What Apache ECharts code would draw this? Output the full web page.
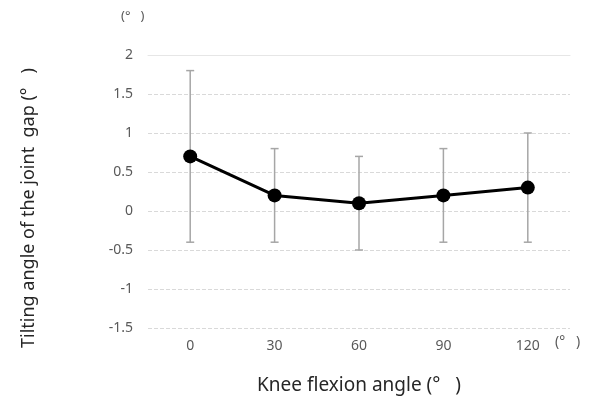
<!DOCTYPE html>
<html>
<head>
<meta charset="utf-8">
<script src="https://cdn.jsdelivr.net/npm/echarts@6/dist/echarts.min.js"></script>
<style>
html, body { margin: 0; padding: 0; background: #fff; }
#chart { width: 591px; height: 401px; }
</style>
</head>
<body>
<div id="chart"></div>
<script>
const categories = ['0', '30', '60', '90', '120']
const meanValues = [0.7, 0.2, 0.1, 0.2, 0.3]
const sdValues = [1.1, 0.6, 0.6, 0.6, 0.7]
const yTicks = { min: -1.5, max: 2, interval: 0.5 }

const font = 'Noto Sans'
const errorData = categories.map((c, i) => [i, meanValues[i] - sdValues[i], meanValues[i] + sdValues[i]])

const myChart = echarts.init(document.getElementById('chart'))
myChart.setOption({
	animation: false,
	grid: { left: 148, right: 21, top: 55, bottom: 73 },
	graphic: [
		{ type: 'text', left: 121, top: 10, style: { text: '(°   )', font: '13px ' + font, fill: '#595959' } },
		{ type: 'text', left: 555, top: 335, style: { text: '(°   )', font: '14px ' + font, fill: '#595959' } },
		{
			// y axis title, placed by hand so it sits a bit lower than the grid middle
			type: 'text',
			x: 29,
			y: 208,
			rotation: Math.PI / 2,
			style: {
				text: 'Tilting angle of the joint  gap (°   )',
				font: '18px ' + font,
				fill: '#262626',
				align: 'center',
				verticalAlign: 'middle',
			},
		},
	],
	xAxis: [
		{
			type: 'category',
			data: categories,
			axisLine: { show: false },
			axisTick: { show: false },
			axisLabel: { color: '#595959', fontFamily: font, fontSize: 14, margin: 11 },
			name: 'Knee flexion angle (°   )',
			nameLocation: 'middle',
			nameGap: 48,
			nameTextStyle: { color: '#262626', fontFamily: font, fontSize: 19 },
		},
		{
			type: 'category',
			data: categories,
			position: 'top',
			axisLine: { show: true, lineStyle: { color: '#e6e6e6', width: 1 } },
			axisTick: { show: false },
			axisLabel: { show: false },
		},
	],
	yAxis: {
		type: 'value',
		min: yTicks.min,
		max: yTicks.max,
		interval: yTicks.interval,
		axisLine: { show: false },
		axisTick: { show: false },
		axisLabel: { color: '#595959', fontFamily: font, fontSize: 14, margin: 15 },
		splitLine: { lineStyle: { color: '#d9d9d9', type: 'dashed', width: 1 } },
	},
	series: [
		{
			type: 'custom',
			data: errorData,
			z: 1,
			renderItem: (params, api) => {
				const x = api.value(0)
				const low = api.coord([x, api.value(1)])
				const high = api.coord([x, api.value(2)])
				const cap = 4
				const style = { stroke: '#a6a6a6', lineWidth: 1.5 }
				return {
					type: 'group',
					children: [
						{ type: 'line', shape: { x1: low[0], y1: low[1], x2: high[0], y2: high[1] }, style },
						{ type: 'line', shape: { x1: low[0] - cap, y1: low[1], x2: low[0] + cap, y2: low[1] }, style },
						{ type: 'line', shape: { x1: high[0] - cap, y1: high[1], x2: high[0] + cap, y2: high[1] }, style },
					],
				}
			},
		},
		{
			type: 'line',
			data: meanValues,
			z: 3,
			symbol: 'circle',
			symbolSize: 14,
			itemStyle: { color: '#000' },
			lineStyle: { color: '#000', width: 3 },
		},
	],
})
</script>
</body>
</html>
